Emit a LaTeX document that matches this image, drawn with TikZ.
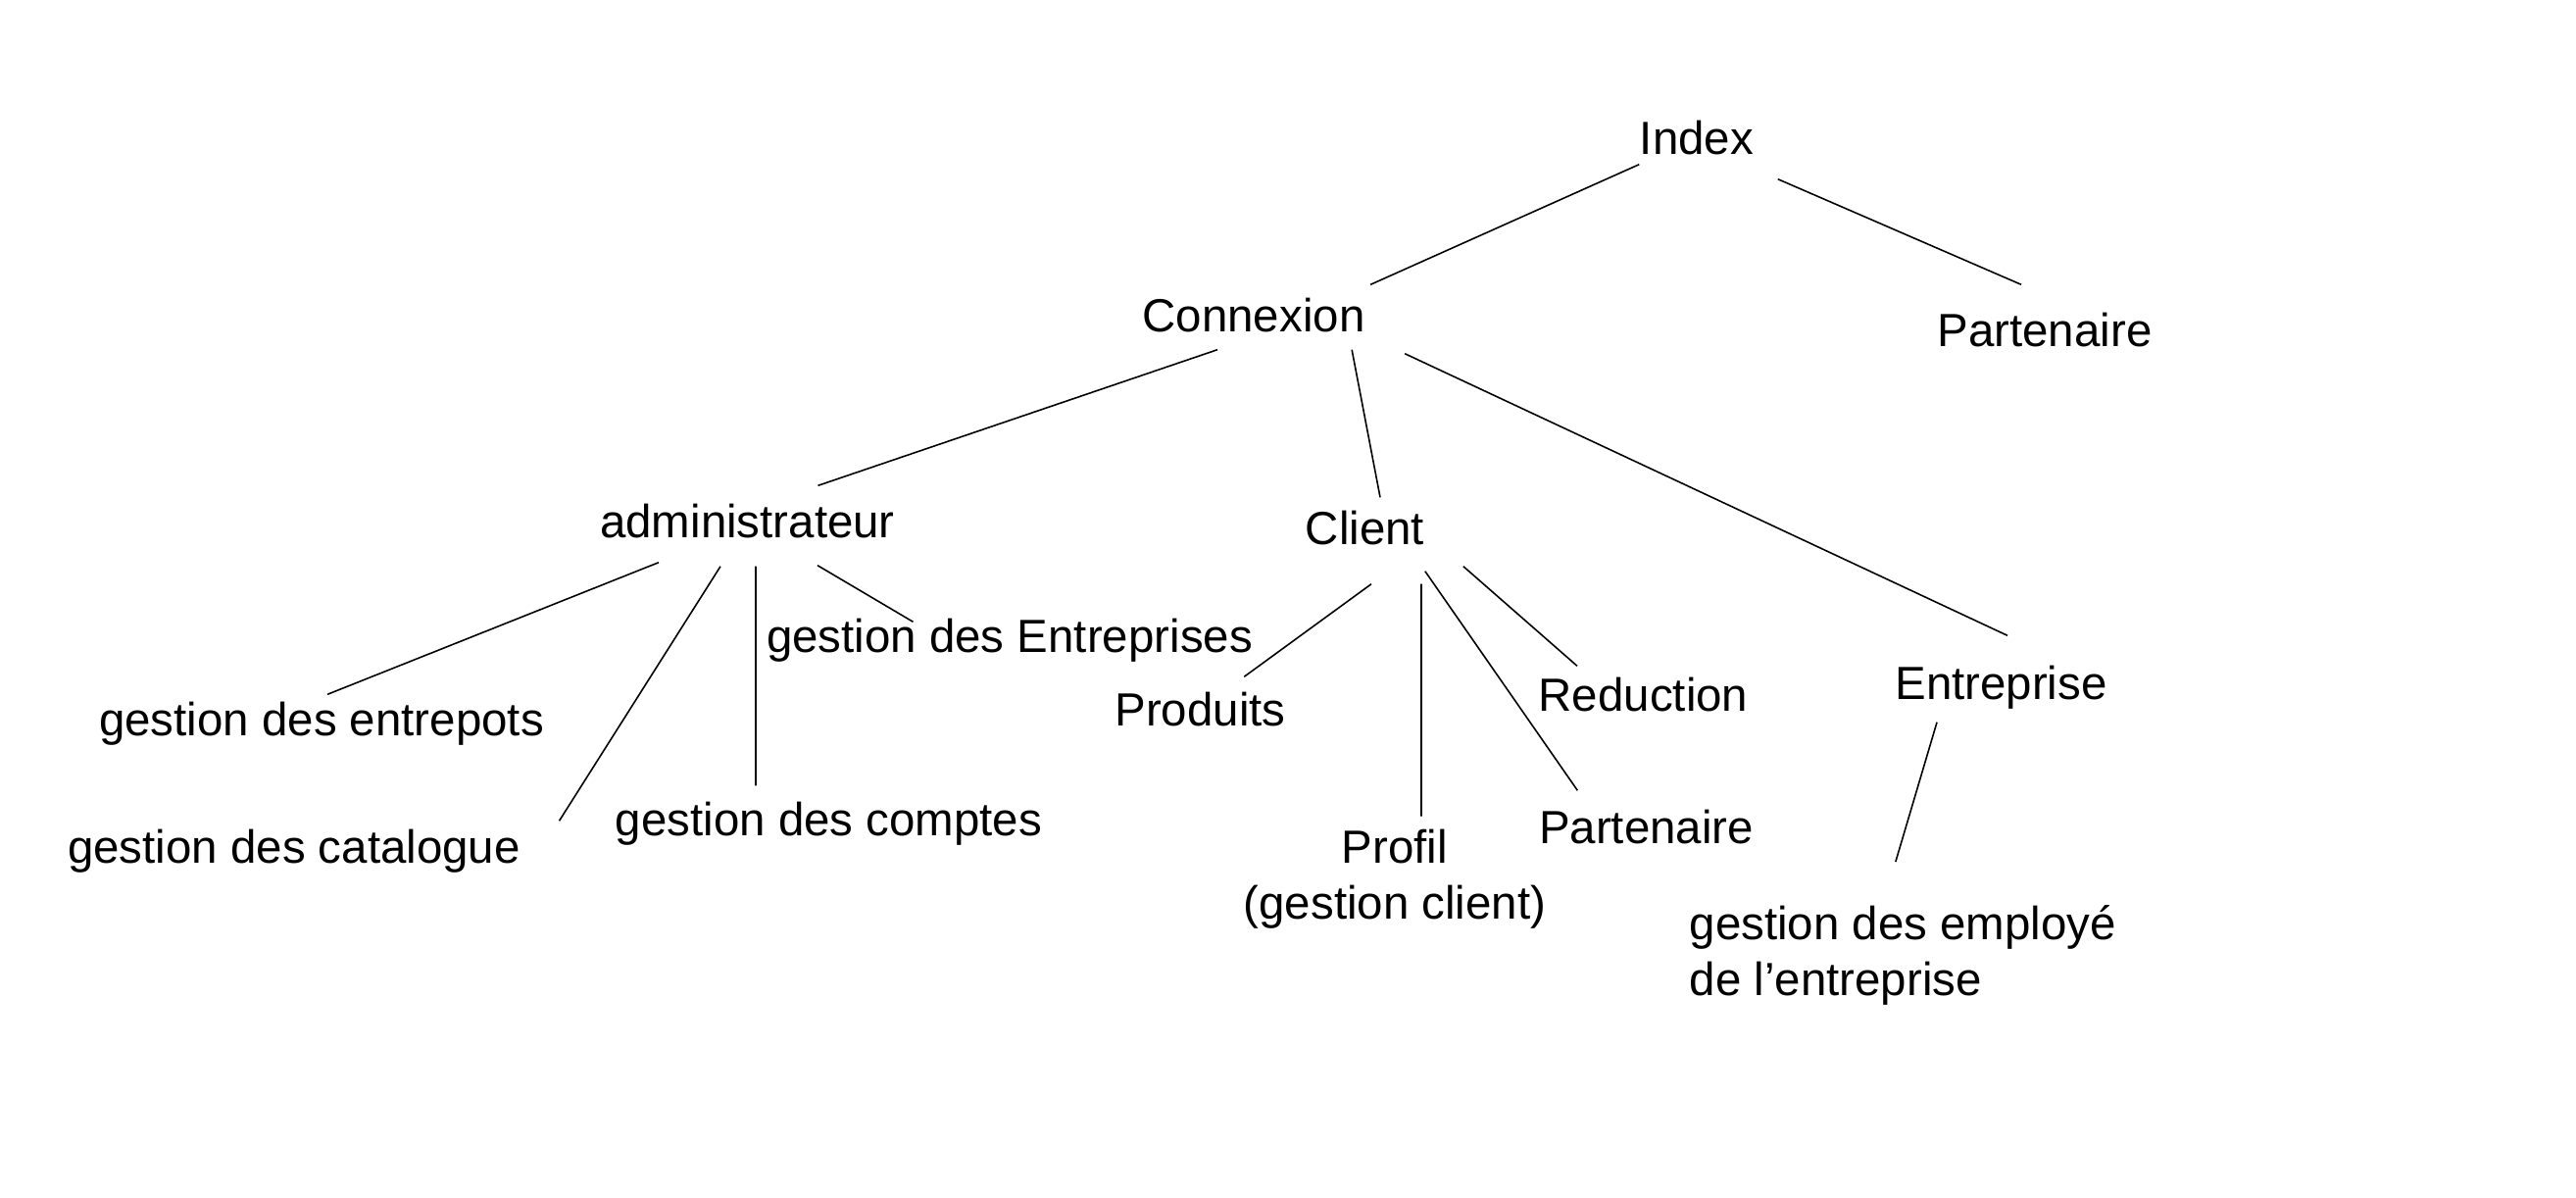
\documentclass[tikz,border=0pt]{standalone}
\usepackage{fontspec}
\setmainfont{Liberation Sans}
\tikzset{%
  % Specifications for style of nodes:
   item/.style = {inner sep=0pt, anchor=base, text height=0.36cm,
                  text depth=0.1cm, font=\fontsize{13.5}{16}\selectfont},
  multi/.style = {inner sep=0pt, font=\fontsize{13.5}{16}\selectfont},
   link/.style = {draw=black, line width=0.45pt},
}
\begin{document}
\begin{tikzpicture}
  \useasboundingbox (0,0) rectangle (26.28,-12.21);
  % Specification of nodes (position, etc.)
  \node (index)        [item] at (17.31,-1.57)  {Index};
  \node (connexion)    [item] at (12.79,-3.38)  {Connexion};
  \node (partenaire)   [item] at (20.86,-3.53)  {Partenaire};
  \node (admin)        [item] at (7.625,-5.48)  {administrateur};
  \node (client)       [item] at (13.925,-5.55) {Client};
  \node (entreprise)   [item] at (20.415,-7.13) {Entreprise};
  \node (gestEntr)     [item] at (10.30,-6.65)  {gestion des Entreprises};
  \node (entrepots)    [item] at (3.28,-7.50)   {gestion des entrepots};
  \node (catalogue)    [item] at (3.00,-8.80)   {gestion des catalogue};
  \node (comptes)      [item] at (8.455,-8.52)  {gestion des comptes};
  \node (produits)     [item] at (12.245,-7.40) {Produits};
  \node (reduction)    [item] at (16.765,-7.25) {Reduction};
  \node (partClient)   [item] at (16.795,-8.60) {Partenaire};
  \node (profil)       [multi, align=center, anchor=base] at (14.23,-9.37)
                                            {Profil\\(gestion client)};
  \node (employes)     [multi, align=left, anchor=base west] at (17.23,-10.15)
                                 {gestion des employé\\de l’entreprise};
  % Specification of lines between nodes specified above
  \draw[link] (index.south west) -- ([shift={(0.05,0.11)}]connexion.north east);
  \draw[link] ([shift={(0.24,-0.15)}]index.south east)
           -- ([shift={(-0.24,0.26)}]partenaire.north);
  \draw[link] ([shift={(-0.37,-0.08)}]connexion.south)
           -- ([shift={(0.72,0.16)}]admin.north);
  \draw[link] ([shift={(-0.14,-0.08)}]connexion.south east)
           -- ([shift={(0.155,0.11)}]client.north);
  \draw[link] ([shift={(0.40,-0.12)}]connexion.south east)
           -- ([shift={(0.065,0.28)}]entreprise.north);
  \draw[link] ([shift={(-0.905,-0.15)}]admin.south)
           -- ([shift={(0.06,0.05)}]entrepots.north);
  \draw[link] ([shift={(-0.275,-0.19)}]admin.south)
           -- ([shift={(0.39,0.06)}]catalogue.north east);
  \draw[link] ([shift={(0.085,-0.19)}]admin.south)
           -- ([shift={(-0.745,0.14)}]comptes.north);
  \draw[link] ([shift={(0.715,-0.18)}]admin.south)
           -- ([shift={(-0.985,-0.06)}]gestEntr.north);
  \draw[link] ([shift={(0.065,-0.30)}]client.south)
           -- ([shift={(-0.43,0.13)}]produits.north east);
  \draw[link] ([shift={(0.575,-0.30)}]client.south)
           -- ([shift={(0.27,0.13)}]profil.north);
  \draw[link] ([shift={(0,-0.17)}]client.south east)
           -- ([shift={(0.40,0.17)}]partClient.north west);
  \draw[link] ([shift={(0.39,-0.12)}]client.south east)
           -- ([shift={(0.40,0.09)}]reduction.north west);
  \draw[link] ([shift={(-0.655,-0.13)}]entreprise.south)
           -- ([shift={(-0.075,0.44)}]employes.north);
\end{tikzpicture}
\end{document}
